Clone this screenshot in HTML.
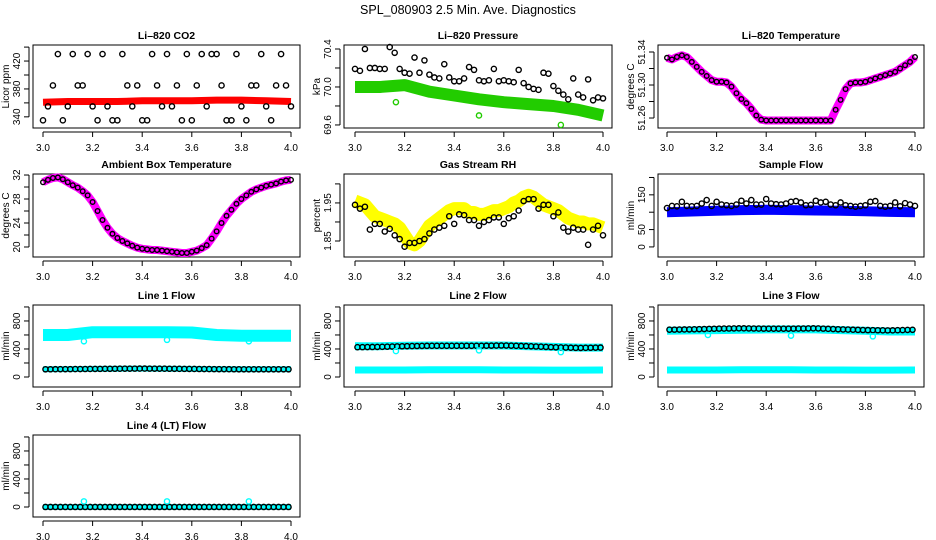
<!DOCTYPE html>
<html><head><meta charset="utf-8">
<style>
html,body{margin:0;padding:0;background:#fff;}
svg{display:block;font-family:"Liberation Sans",Arial,sans-serif;}
</style></head>
<body>
<svg id="chart" width="936" height="540" viewBox="0 0 936 540" xmlns="http://www.w3.org/2000/svg">
<text x="468" y="14" text-anchor="middle" font-size="12.5">SPL_080903  2.5 Min. Ave. Diagnostics</text>
</svg>
<script>
// ---- time categories (hours) ----
const times51 = [3.00,3.02,3.04,3.06,3.08,3.10,3.12,3.14,3.16,3.18,3.20,3.22,3.24,3.26,3.28,3.30,3.32,3.34,3.36,3.38,3.40,3.42,3.44,3.46,3.48,3.50,3.52,3.54,3.56,3.58,3.60,3.62,3.64,3.66,3.68,3.70,3.72,3.74,3.76,3.78,3.80,3.82,3.84,3.86,3.88,3.90,3.92,3.94,3.96,3.98,4.00];
const times11 = [3.0,3.1,3.2,3.3,3.4,3.5,3.6,3.7,3.8,3.9,4.0];
const outlierTimes = [3.165,3.50,3.83];
const xTicks = [3.0,3.2,3.4,3.6,3.8,4.0];
const xTickLabels = ["3.0","3.2","3.4","3.6","3.8","4.0"];

// ---- CO2 ----
const co2Band = [361,362,362,362,363,363,363,364,364,363,362];
const co2Black = [335,355,385,430,335,355,430,385,385,430,355,335,430,355,335,335,430,385,355,385,335,335,430,385,355,430,355,385,335,430,335,385,430,355,430,430,385,335,335,430,355,335,385,385,430,355,335,385,430,385,355];
// ---- Pressure ----
const presBand = [70.00,70.00,70.02,69.95,69.91,69.87,69.84,69.82,69.80,69.76,69.70];
const presBlack = [70.19,70.17,70.40,70.20,70.20,70.19,70.19,70.42,70.36,70.19,70.15,70.14,70.31,70.15,70.28,70.13,70.10,70.09,70.24,70.10,70.06,70.06,70.09,70.21,70.18,70.07,70.06,70.07,70.19,70.06,70.07,70.06,70.05,70.18,70.04,70.00,69.98,69.97,70.15,70.14,70.01,69.96,69.92,69.87,70.09,69.92,69.89,70.08,69.86,69.89,69.88];
const presOut = [69.84,69.70,69.60];
// ---- Li-820 Temperature ----
const ltempBand = [51.333,51.331,51.334,51.336,51.334,51.328,51.322,51.316,51.311,51.306,51.304,51.304,51.303,51.298,51.290,51.283,51.278,51.271,51.263,51.258,51.257,51.257,51.257,51.257,51.257,51.257,51.257,51.257,51.257,51.257,51.257,51.257,51.257,51.257,51.270,51.282,51.295,51.302,51.303,51.303,51.304,51.306,51.308,51.310,51.312,51.314,51.316,51.320,51.324,51.328,51.334];
// ---- Ambient Box Temperature ----
const ambBand = [30.8,31.2,31.5,31.6,31.3,30.8,30.3,29.9,29.3,28.6,27.5,26.0,24.5,23.2,22.2,21.5,21.0,20.6,20.2,19.9,19.7,19.6,19.5,19.5,19.4,19.3,19.2,19.1,19.0,19.0,19.2,19.4,19.8,20.3,21.4,22.6,24.0,25.2,26.2,27.2,28.0,28.6,29.2,29.6,29.9,30.2,30.4,30.6,30.9,31.1,31.2];
// ---- Gas Stream RH ----
const rhBand = [1.955,1.950,1.945,1.930,1.915,1.910,1.905,1.900,1.895,1.885,1.865,1.845,1.840,1.850,1.870,1.890,1.900,1.910,1.920,1.930,1.935,1.935,1.935,1.925,1.925,1.920,1.920,1.925,1.930,1.930,1.935,1.940,1.950,1.955,1.965,1.970,1.965,1.955,1.945,1.940,1.935,1.930,1.920,1.910,1.905,1.900,1.900,1.895,1.895,1.890,1.885];
const rhBlack = [1.945,1.935,1.940,1.880,1.895,1.895,1.875,1.882,1.865,1.855,1.835,1.845,1.845,1.850,1.855,1.870,1.880,1.885,1.890,1.915,1.895,1.920,1.918,1.905,1.905,1.890,1.900,1.905,1.912,1.912,1.895,1.910,1.915,1.930,1.955,1.960,1.960,1.935,1.945,1.945,1.915,1.925,1.885,1.875,1.885,1.880,1.880,1.840,1.880,1.890,1.865];
// ---- Sample Flow ----
const sampBand = [100,102,104,106,107,106,105,104,103,101,100];
const sampBlack = [112,118,117,130,118,117,118,125,135,118,130,122,120,118,122,133,125,135,122,122,138,125,123,122,125,130,132,128,120,121,133,128,130,122,120,128,120,118,116,118,120,130,132,118,116,118,128,117,126,122,118];
// ---- Line flows ----
const l1Band = [600,600,640,640,640,640,635,600,590,590,590];
const l1Black = [110,112,115,118,120,118,115,112,110,110,110];
const l1Out = [510,530,510];
const l2Band = [440,440,445,450,450,450,450,440,430,420,420];
const l2Black = [425,430,440,445,445,445,450,440,425,415,420];
const l2Low = [100,100,100,102,102,102,100,100,98,98,100];
const l2Out = [370,380,355];
const l3Band = [660,665,670,675,680,680,680,670,660,650,650];
const l3Black = [675,680,690,695,690,690,695,680,670,665,675];
const l3Low = [100,100,100,102,102,102,100,100,98,98,100];
const l3Out = [600,590,580];
const l4Band = [0,0,0,0,0,0,0,0,0,0,0];
const l4Black = [0,0,0,0,0,0,0,0,0,0,0];
const l4Out = [80,80,80];

const NS = "http://www.w3.org/2000/svg";
const svg = document.getElementById('chart');
function mk(tag, attrs, parent){const e=document.createElementNS(NS,tag);for(const k in attrs)e.setAttribute(k,attrs[k]);(parent||svg).appendChild(e);return e;}

const cols = [{l:33,r:300,x0:43,x1:291},{l:344,r:612,x0:355,x1:603},{l:658,r:924,x0:667,x1:915}];
const rows = [{t:45,b:128},{t:174,b:257},{t:305,b:387},{t:435,b:517}];

function panel(name, title, ci, ri, ylabel, ymin, ymax, yticks, ylabels){
  const c=cols[ci], r=rows[ri];
  const g=mk('g',{});
  
  
  const sx=t=>c.x0+(t-3)*(c.x1-c.x0);
  const sy=v=>r.b-(v-ymin)/(ymax-ymin)*(r.b-r.t);
  const tt=mk('text',{x:(c.l+c.r)/2,y:r.t-6,'text-anchor':'middle','font-size':'10.5','font-weight':'bold'},g);
  tt.textContent=title;
  
  
  const box=mk('rect',{x:c.l,y:r.t,width:c.r-c.l,height:r.b-r.t,fill:'none',stroke:'#000','stroke-width':1},g);
  
  
  const xa=mk('g',{},g);
  
  
  mk('line',{x1:sx(3),x2:sx(4),y1:r.b+4,y2:r.b+4,stroke:'#000'},xa);
  xTicks.forEach((t,i)=>{
    mk('line',{x1:sx(t),x2:sx(t),y1:r.b+4,y2:r.b+9,stroke:'#000'},xa);
    const l=mk('text',{x:sx(t),y:r.b+23,'text-anchor':'middle','font-size':'10'},xa);
    l.textContent=xTickLabels[i];
  });
  const ya=mk('g',{},g);
  
  
  const ax=c.l-4;
  mk('line',{x1:ax,x2:ax,y1:sy(yticks[0]),y2:sy(yticks[yticks.length-1]),stroke:'#000'},ya);
  yticks.forEach((v,i)=>{
    mk('line',{x1:ax-5,x2:ax,y1:sy(v),y2:sy(v),stroke:'#000'},ya);
    if(ylabels[i]){
      const lx=ax-9,ly=sy(v);
      const l=mk('text',{x:lx,y:ly,'text-anchor':'middle','font-size':'10',transform:`rotate(-90 ${lx} ${ly})`},ya);
      l.textContent=ylabels[i];
    }
  });
  const yl=mk('text',{x:c.l-24,y:(r.t+r.b)/2,'text-anchor':'middle','font-size':'10',transform:`rotate(-90 ${c.l-24} ${(r.t+r.b)/2})`},g);
  yl.textContent=ylabel;
  
  
  return {g,sx,sy};
}
function band(p,times,vals,color,w,name){
  const pts=times.map((t,i)=>p.sx(t).toFixed(1)+','+p.sy(vals[i]).toFixed(1)).join(' ');
  const e=mk('polyline',{points:pts,fill:'none',stroke:color,'stroke-width':w,'stroke-linejoin':'round','stroke-linecap':'butt'},p.g);
  
  
}
function pts(p,times,vals,color,name,rad){
  const g=mk('g',{},p.g);
  
  
  times.forEach((t,i)=>{
    mk('circle',{cx:p.sx(t),cy:p.sy(vals[i]),r:rad||2.6,fill:'none',stroke:color,'stroke-width':1.4},g);
  });
}
function dense(p,times,vals,color,name){
  const g=mk('g',{},p.g);
  
  
  for(let i=0;i<times.length-1;i++){
    for(let k=0;k<5;k++){
      const f=(k+0.5)/5,t=times[i]+(times[i+1]-times[i])*f,v=vals[i]+(vals[i+1]-vals[i])*f;
      mk('circle',{cx:p.sx(t),cy:p.sy(v),r:2.6,fill:'none',stroke:color,'stroke-width':1.4},g);
    }
  }
}

// Row 1
let p=panel('co2','Li\u2013820 CO2',0,0,'Licor ppm',324,443,[340,360,380,400,420,440],['340','','380','','420','']);
band(p,times11,co2Band,'#ff0000',7,'co2-red-series');
pts(p,times51,co2Black,'#000','co2-black-points');

p=panel('pressure','Li\u2013820 Pressure',1,0,'kPa',69.568,70.442,[69.6,69.8,70.0,70.2,70.4],['69.6','','70.0','','70.4']);
band(p,times11,presBand,'#22cc00',12,'pressure-green-series');
pts(p,times51,presBlack,'#000','pressure-black-points');
pts(p,outlierTimes,presOut,'#22cc00','pressure-green-outliers');

p=panel('li820-temp','Li\u2013820 Temperature',2,0,'degrees C',51.2479,51.3485,[51.26,51.28,51.30,51.32,51.34],['51.26','','51.30','','51.34']);
band(p,times51,ltempBand,'#ff00ff',8,'li820-temp-magenta-series');
pts(p,times51,ltempBand,'#000','li820-temp-black-points',2.3);

// Row 2
p=panel('ambient-temp','Ambient Box Temperature',0,1,'degrees C',18.33,32.17,[20,22,24,26,28,30,32],['20','','24','','28','','32']);
band(p,times51,ambBand,'#ff00ff',8,'ambient-temp-magenta-series');
pts(p,times51,ambBand,'#000','ambient-temp-black-points',2.3);

p=panel('gas-rh','Gas Stream RH',1,1,'percent',1.808,2.026,[1.85,1.90,1.95,2.00],['1.85','','1.95','']);
band(p,times51,rhBand,'#ffff00',13,'gas-rh-yellow-series');
pts(p,times51,rhBlack,'#000','gas-rh-black-points');

p=panel('sample-flow','Sample Flow',2,1,'ml/min',-29,210,[0,50,100,150,200],['0','50','','150','']);
band(p,times11,sampBand,'#0000ff',10,'sample-flow-blue-series');
pts(p,times51,sampBlack,'#000','sample-flow-black-points');

// Row 3
const fT=[0,200,400,600,800,1000], fL=['0','','400','','800',''];
p=panel('line1-flow','Line 1 Flow',0,2,'ml/min',-143,1028,fT,fL);
band(p,times11,l1Band,'#00ffff',12,'line1-cyan-series');
band(p,times11,l1Black,'#00ffff',6,'line1-cyan-low-series');
dense(p,times11,l1Black,'#000','line1-black-points');
pts(p,outlierTimes,l1Out,'#00ffff','line1-cyan-outliers');

p=panel('line2-flow','Line 2 Flow',1,2,'ml/min',-143,1028,fT,fL);
band(p,times11,l2Band,'#00ffff',8,'line2-cyan-series');
band(p,times11,l2Low,'#00ffff',7,'line2-cyan-low-series');
dense(p,times11,l2Black,'#000','line2-black-points');
pts(p,outlierTimes,l2Out,'#00ffff','line2-cyan-outliers');

p=panel('line3-flow','Line 3 Flow',2,2,'ml/min',-143,1028,fT,fL);
band(p,times11,l3Band,'#00ffff',8,'line3-cyan-series');
band(p,times11,l3Low,'#00ffff',7,'line3-cyan-low-series');
dense(p,times11,l3Black,'#000','line3-black-points');
pts(p,outlierTimes,l3Out,'#00ffff','line3-cyan-outliers');

// Row 4
p=panel('line4-flow','Line 4 (LT) Flow',0,3,'ml/min',-143,1028,fT,fL);
band(p,times11,l4Band,'#00ffff',6,'line4-cyan-series');
dense(p,times11,l4Black,'#000','line4-black-points');
pts(p,outlierTimes,l4Out,'#00ffff','line4-cyan-outliers');
</script>
</body></html>
